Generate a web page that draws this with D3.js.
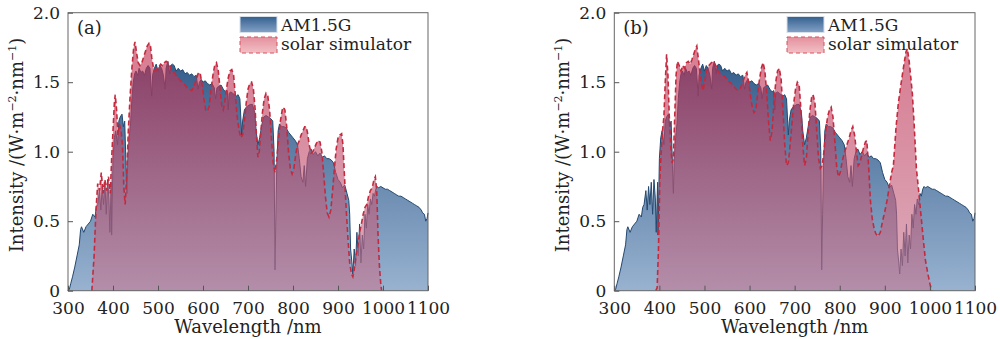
<!DOCTYPE html>
<meta charset="utf-8">
<script src="https://d3js.org/d3.v7.min.js"></script>
<style>
  body { margin: 0; background: #fff; }
  text { font-family: "DejaVu Serif", serif; fill: #222; }
</style>
<div id="chart"></div>
<script>

// AM1.5G reference spectrum [wavelength nm, intensity W m-2 nm-1]
var am15g = [
  [300,0],[303,0.01],[306,0.05],[310,0.10],[315,0.17],[320,0.25],[325,0.33],[328,0.44],[330,0.46],
  [335,0.42],[340,0.46],[345,0.48],[350,0.50],[355,0.55],[360,0.53],[363,0.60],[366,0.62],[370,0.72],
  [373,0.58],[376,0.75],[379,0.62],[382,0.78],[385,0.55],[388,0.80],[391,0.66],[393,0.42],[396,0.78],
  [397,0.40],[400,0.95],[403,1.10],[406,1.15],[410,1.05],[413,1.22],[416,1.25],[420,1.27],[423,1.18],
  [426,1.22],[429,0.90],[431,0.70],[433,0.95],[436,1.10],[439,1.20],[442,1.38],[445,1.50],[448,1.56],
  [451,1.58],[455,1.55],[458,1.60],[462,1.57],[466,1.58],[470,1.55],[474,1.60],[478,1.62],[482,1.60],
  [486,1.40],[488,1.55],[492,1.60],[496,1.63],[500,1.58],[504,1.62],[508,1.60],[512,1.55],[516,1.45],
  [518,1.60],[522,1.65],[526,1.56],[528,1.62],[532,1.63],[536,1.62],[540,1.58],[545,1.60],[550,1.58],
  [555,1.59],[560,1.56],[565,1.57],[570,1.55],[575,1.56],[580,1.54],[585,1.55],[589,1.45],[592,1.50],
  [596,1.52],[600,1.50],[605,1.51],[610,1.49],[615,1.48],[620,1.49],[625,1.46],[628,1.38],[631,1.46],
  [635,1.47],[640,1.48],[645,1.45],[650,1.43],[654,1.44],[656,1.30],[658,1.42],[662,1.43],[666,1.42],
  [670,1.41],[674,1.40],[678,1.41],[682,1.38],[686,1.12],[688,1.22],[692,1.30],[696,1.32],[700,1.33],
  [705,1.34],[710,1.34],[715,1.28],[718,1.15],[722,1.05],[726,1.10],[730,1.18],[735,1.25],[740,1.26],
  [745,1.25],[750,1.24],[755,1.22],[758,1.00],[760,0.15],[762,0.55],[764,0.90],[767,1.15],[770,1.20],
  [775,1.18],[780,1.18],[785,1.17],[790,1.14],[795,1.12],[800,1.10],[805,1.08],[810,1.05],[814,0.95],
  [818,0.82],[822,0.78],[825,0.90],[828,0.75],[832,0.95],[836,1.00],[840,1.02],[845,0.98],[850,1.00],
  [855,0.97],[860,0.99],[865,0.96],[870,0.97],[875,0.95],[880,0.95],[885,0.94],[890,0.92],[895,0.85],
  [900,0.80],[905,0.78],[910,0.74],[915,0.76],[920,0.70],[924,0.65],[926,0.55],[928,0.30],[931,0.20],
  [933,0.12],[936,0.30],[939,0.18],[942,0.42],[945,0.25],[948,0.48],[951,0.20],[954,0.40],[957,0.30],
  [960,0.55],[963,0.45],[966,0.62],[969,0.55],[972,0.66],[975,0.62],[978,0.70],[981,0.68],[984,0.73],
  [987,0.75],[990,0.74],[995,0.75],[1000,0.74],[1005,0.73],[1010,0.73],[1015,0.72],[1020,0.71],
  [1025,0.70],[1030,0.69],[1035,0.68],[1040,0.68],[1045,0.67],[1050,0.66],[1055,0.65],[1060,0.64],
  [1065,0.63],[1070,0.62],[1075,0.61],[1080,0.60],[1085,0.58],[1088,0.56],[1092,0.55],[1095,0.50],
  [1098,0.52],[1100,0.56]
];

// solar simulator, panel (a)
var simA = [
  [353,0],[358,0.25],[362,0.57],[366,0.77],[370,0.72],[374,0.85],[378,0.70],[382,0.80],[386,0.72],
  [390,0.82],[394,0.70],[397,0.95],[400,1.15],[403,1.35],[405,1.41],[408,1.30],[411,1.12],[414,1.20],
  [418,1.15],[421,1.05],[424,0.75],[427,0.62],[430,0.80],[434,1.15],[438,1.40],[442,1.60],[446,1.75],
  [449,1.79],[452,1.72],[456,1.64],[460,1.62],[464,1.64],[468,1.68],[472,1.72],[476,1.76],[480,1.78],
  [483,1.77],[486,1.68],[490,1.60],[494,1.58],[498,1.60],[502,1.61],[506,1.63],[510,1.62],[514,1.64],
  [518,1.65],[522,1.64],[526,1.62],[530,1.58],[535,1.57],[540,1.55],[545,1.53],[550,1.51],[555,1.50],
  [560,1.48],[565,1.46],[570,1.45],[575,1.44],[580,1.47],[585,1.52],[590,1.57],[594,1.56],[598,1.48],
  [602,1.38],[606,1.30],[610,1.29],[614,1.33],[618,1.45],[622,1.55],[626,1.62],[630,1.64],[634,1.58],
  [638,1.45],[642,1.32],[645,1.30],[648,1.35],[652,1.45],[656,1.53],[660,1.58],[664,1.59],[668,1.55],
  [672,1.40],[676,1.25],[680,1.16],[684,1.10],[688,1.12],[692,1.22],[696,1.35],[700,1.45],[704,1.49],
  [708,1.50],[712,1.45],[716,1.30],[719,1.10],[722,0.96],[725,1.00],[728,1.12],[732,1.28],[736,1.38],
  [740,1.42],[744,1.40],[748,1.30],[752,1.10],[756,0.92],[760,0.85],[764,0.95],[768,1.10],[772,1.22],
  [776,1.30],[779,1.32],[782,1.30],[786,1.18],[790,1.00],[794,0.88],[798,0.84],[802,0.88],[806,0.98],
  [810,1.05],[814,1.08],[818,1.12],[822,1.15],[826,1.18],[829,1.18],[832,1.14],[836,1.05],[840,0.99],
  [844,1.00],[848,1.03],[852,1.06],[856,1.08],[860,1.07],[864,1.00],[868,0.85],[872,0.68],[876,0.56],
  [880,0.53],[884,0.58],[888,0.72],[892,0.88],[896,1.02],[900,1.10],[904,1.12],[908,1.13],[911,1.05],
  [914,0.85],[918,0.60],[922,0.38],[926,0.20],[930,0.12],[933,0.10],[936,0.15],[940,0.25],[944,0.32],
  [948,0.42],[952,0.48],[956,0.55],[960,0.60],[964,0.62],[968,0.68],[972,0.72],[976,0.74],[980,0.80],
  [983,0.82],[986,0.72],[989,0.40],[992,0.18],[995,0.05],[997,0]
];

// solar simulator, panel (b)
var simB = [
  [392,0],[395,0.02],[398,0.30],[401,0.80],[404,1.00],[407,1.15],[410,1.25],[413,1.50],[416,1.70],
  [419,1.55],[422,1.25],[425,1.05],[428,0.92],[431,0.95],[434,1.25],[437,1.55],[440,1.65],[444,1.62],
  [448,1.58],[452,1.62],[456,1.60],[460,1.64],[464,1.65],[468,1.63],[472,1.66],[476,1.70],[480,1.74],
  [483,1.76],[486,1.68],[490,1.57],[494,1.48],[497,1.44],[500,1.50],[505,1.58],[510,1.62],[515,1.64],
  [520,1.65],[525,1.62],[530,1.58],[535,1.56],[540,1.55],[545,1.54],[550,1.52],[555,1.50],[560,1.49],
  [565,1.47],[570,1.45],[575,1.44],[580,1.46],[585,1.50],[590,1.55],[594,1.57],[598,1.50],[602,1.40],
  [606,1.32],[610,1.28],[614,1.30],[618,1.42],[622,1.52],[626,1.60],[630,1.64],[634,1.58],[638,1.42],
  [642,1.22],[646,1.08],[650,1.15],[654,1.35],[658,1.50],[662,1.58],[666,1.60],[670,1.52],[674,1.30],
  [678,1.05],[682,0.90],[686,0.92],[690,1.05],[694,1.20],[698,1.35],[702,1.45],[706,1.50],[710,1.48],
  [714,1.30],[718,1.05],[722,0.90],[726,0.95],[730,1.15],[734,1.30],[738,1.40],[741,1.41],[745,1.35],
  [749,1.15],[753,0.95],[757,0.88],[761,0.90],[765,1.00],[769,1.15],[773,1.25],[777,1.30],[781,1.32],
  [785,1.25],[789,1.08],[793,0.90],[797,0.82],[801,0.85],[805,0.92],[809,0.98],[813,1.02],[817,1.06],
  [821,1.10],[825,1.15],[829,1.18],[833,1.12],[837,1.00],[841,0.90],[845,0.92],[849,0.98],[853,1.03],
  [857,1.07],[860,1.08],[864,0.90],[868,0.65],[872,0.52],[876,0.45],[880,0.41],[885,0.39],[890,0.42],
  [895,0.50],[900,0.57],[905,0.65],[910,0.75],[915,0.85],[919,0.90],[925,1.18],[930,1.35],[936,1.49],
  [942,1.62],[947,1.72],[950,1.74],[954,1.65],[958,1.52],[961,1.42],[965,1.20],[970,0.88],[975,0.72],
  [980,0.55],[985,0.38],[990,0.22],[995,0.13],[1000,0.05],[1004,0]
];

var xTicks = [300, 400, 500, 600, 700, 800, 900, 1000, 1100];
var yTicks = [0, 0.5, 1.0, 1.5, 2.0];
var yTickLabels = ["0", "0.5", "1.0", "1.5", "2.0"];
var legendNames = ["AM1.5G", "solar simulator"];

var W = 1000, H = 339;
var svg = d3.select("#chart").append("svg")
    .attr("width", W)
    .attr("height", H);

var defs = svg.append("defs");

function grad(id, stops, user, y1, y2) {
  var g = defs.append("linearGradient").attr("id", id)
      .attr("x1", 0).attr("x2", 0);
  if (user) {
    g.attr("gradientUnits", "userSpaceOnUse").attr("y1", y1).attr("y2", y2);
  } else {
    g.attr("y1", 0).attr("y2", 1);
  }
  stops.forEach(function(s) {
    g.append("stop").attr("offset", s[0]).attr("stop-color", s[1]);
  });
}

var plotTop = 12.7, plotBottom = 290.7;

grad("blueFill", [[0, "#2a5483"], [1, "#98b2d0"]], true, plotTop + 20, plotBottom);
grad("pinkFill", [[0, "#c0284a"], [1, "#c47892"]], true, plotTop + 20, plotBottom);
grad("blueLeg", [[0, "#34608e"], [1, "#84a2c6"]]);
grad("pinkLeg", [[0, "#e4909c"], [1, "#f2c0c6"]]);

function drawPanel(x0, x1, sim, label) {
  var x = d3.scaleLinear().domain([300, 1100]).range([x0, x1]);
  var y = d3.scaleLinear().domain([0, 2]).range([plotBottom, plotTop]);
  var g = svg.append("g");

  var area = d3.area()
      .x(function(d) { return x(d[0]); })
      .y0(y(0))
      .y1(function(d) { return y(d[1]); });
  var line = d3.line()
      .x(function(d) { return x(d[0]); })
      .y(function(d) { return y(d[1]); });

  // AM1.5G
  g.append("path").datum(am15g)
      .attr("fill", "url(#blueFill)")
      .attr("d", area);
  g.append("path").datum(am15g)
      .attr("fill", "none")
      .attr("stroke", "#24486f")
      .attr("stroke-width", 1)
      .attr("d", line);

  // solar simulator
  g.append("path").datum(sim)
      .attr("fill", "url(#pinkFill)")
      .attr("fill-opacity", 0.62)
      .attr("d", area);
  g.append("path").datum(sim)
      .attr("fill", "none")
      .attr("stroke", "#c42a3e")
      .attr("stroke-width", 1.6)
      .attr("stroke-dasharray", "5,3")
      .attr("d", line);

  // frame
  g.append("rect")
      .attr("x", x0).attr("y", plotTop)
      .attr("width", x1 - x0).attr("height", plotBottom - plotTop)
      .attr("fill", "none")
      .attr("stroke", "#666")
      .attr("stroke-width", 1);

  // ticks (inward)
  var xAxis = d3.axisBottom(x).tickValues(xTicks).tickFormat(d3.format("d"))
      .tickSizeInner(-5).tickSizeOuter(0).tickPadding(11);
  var ga = g.append("g").attr("transform", "translate(0," + plotBottom + ")").call(xAxis);
  ga.select(".domain").remove();
  ga.selectAll("line").attr("stroke", "#555");
  ga.selectAll("text").attr("font-size", 17).attr("font-family", "DejaVu Serif").attr("fill", "#222");

  var yAxis = d3.axisLeft(y).tickValues(yTicks)
      .tickFormat(function(d, i) { return yTickLabels[i]; })
      .tickSizeInner(-5).tickSizeOuter(0).tickPadding(8);
  var gy = g.append("g").attr("transform", "translate(" + x0 + ",0)").call(yAxis);
  gy.select(".domain").remove();
  gy.selectAll("line").attr("stroke", "#555");
  gy.selectAll("text").attr("font-size", 17).attr("font-family", "DejaVu Serif").attr("fill", "#222");

  // axis titles
  g.append("text")
      .attr("x", (x0 + x1) / 2).attr("y", 333)
      .attr("text-anchor", "middle")
      .attr("font-size", 18)
      .text("Wavelength /nm");

  var yt = g.append("text")
      .attr("transform", "translate(" + (x0 - 45) + "," + 145 + ") rotate(-90)")
      .attr("text-anchor", "middle")
      .attr("font-size", 18);
  yt.append("tspan").text("Intensity /(W\u00b7m");
  yt.append("tspan").attr("font-size", 11).attr("dy", -7).text("\u22122");
  yt.append("tspan").attr("dy", 7).text("\u00b7nm");
  yt.append("tspan").attr("font-size", 11).attr("dy", -7).text("\u22121");
  yt.append("tspan").attr("dy", 7).text(")");

  // panel label
  g.append("text")
      .attr("x", x0 + 9).attr("y", 34)
      .attr("font-size", 18)
      .text(label);

  // legend
  var lx = x1 - 188;
  g.append("rect").attr("x", lx).attr("y", 16.5).attr("width", 37).attr("height", 16)
      .attr("fill", "url(#blueLeg)").attr("stroke", "#d8e0ea").attr("stroke-width", 1);
  g.append("rect").attr("x", lx).attr("y", 37).attr("width", 37).attr("height", 16)
      .attr("fill", "url(#pinkLeg)").attr("stroke", "#d8505e").attr("stroke-width", 1)
      .attr("stroke-dasharray", "4,3");
  g.append("text").attr("x", lx + 41).attr("y", 31)
      .attr("font-size", 17).text(legendNames[0]);
  g.append("text").attr("x", lx + 41).attr("y", 50)
      .attr("font-size", 17).text(legendNames[1]);
}

drawPanel(68, 428, simA, "(a)");
drawPanel(614.3, 975, simB, "(b)");

</script>
